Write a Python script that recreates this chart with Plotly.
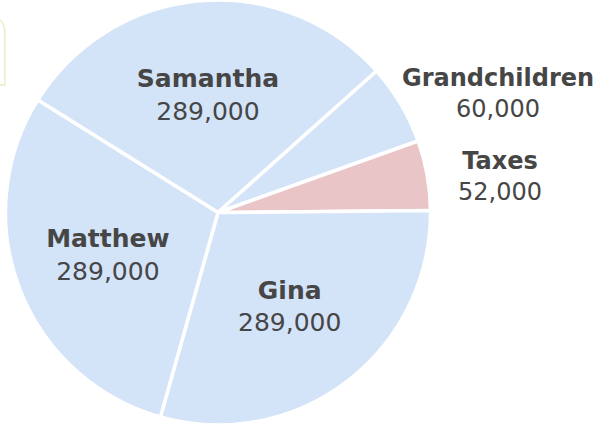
import plotly.graph_objects as go

# Estate distribution
names = ["Samantha", "Grandchildren", "Taxes", "Gina", "Matthew"]
amounts = [289000, 60000, 52000, 289000, 289000]
slice_colors = ["#d3e3f8", "#d3e3f8", "#e9c5c7", "#d3e3f8", "#d3e3f8"]
label_positions = ["inside", "none", "none", "inside", "inside"]

FONT = "'DejaVu Sans', sans-serif"
TEXT_COLOR = "#464646"
TEXT_SIZE = 25

fig = go.Figure(
    go.Pie(
        labels=names,
        values=amounts,
        sort=False,
        direction="clockwise",
        rotation=-58,
        marker=dict(colors=slice_colors, line=dict(color="#ffffff", width=3.5)),
        textposition=label_positions,
        texttemplate="<b>%{label}</b><br>%{value:,}",
        textfont=dict(family=FONT, size=TEXT_SIZE, color=TEXT_COLOR),
        insidetextorientation="horizontal",
        hoverinfo="none",
        showlegend=False,
        domain=dict(x=[0.0091, 0.7139], y=[0.0, 1.0]),
    )
)

# labels of the two narrow slices, set beside the pie
side_label_xy = {"Grandchildren": (0.826, 0.779), "Taxes": (0.829, 0.585)}
for name, amount in zip(names, amounts):
    if name in side_label_xy:
        x, y = side_label_xy[name]
        fig.add_annotation(
            x=x, y=y, xref="paper", yref="paper",
            text=f"<b>{name}</b><br>{amount:,}",
            showarrow=False,
            font=dict(family=FONT, size=TEXT_SIZE - 1, color=TEXT_COLOR),
            align="center",
            xanchor="center",
            yanchor="middle",
        )

# edge of a tooltip box peeking in at the upper left
fig.add_shape(
    type="path",
    xref="paper",
    yref="paper",
    path="M -0.2,0.955 L -0.006,0.955 Q 0.008,0.955 0.008,0.92 L 0.008,0.80 L -0.2,0.80 Z",
    line=dict(color="#eeecc8", width=1.5),
    fillcolor="#ffffff",
    layer="above",
)

fig.update_layout(
    width=603,
    height=425,
    margin=dict(l=0, r=0, t=0, b=0),
    paper_bgcolor="#ffffff",
    plot_bgcolor="#ffffff",
    font=dict(family=FONT, color=TEXT_COLOR),
)

fig.write_html("out.html")
